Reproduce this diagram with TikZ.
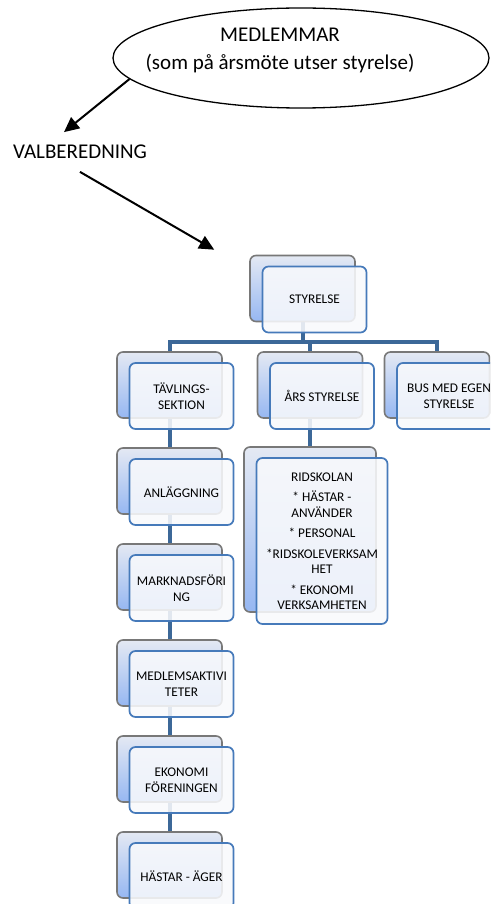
\documentclass[tikz,border=0pt]{standalone}
\usepackage{fontspec}
\setmainfont{Carlito}
\usetikzlibrary{arrows.meta, shapes.geometric, backgrounds}

\definecolor{boxgray}{RGB}{120,120,120}
\definecolor{boxblue}{RGB}{70,122,186}
\definecolor{linkblue}{RGB}{60,104,152}
\definecolor{shadetop}{RGB}{228,233,243}
\definecolor{shadebot}{RGB}{150,183,242}
\definecolor{frontfill}{RGB}{248,249,252}

\begin{document}
\begin{tikzpicture}[x=1pt, y=-1pt, >={Triangle[length=15pt, width=14pt]}]
% --- Global Styles ---
\tikzstyle{arr} = [->, line width=2pt]
\tikzstyle{conn} = [draw=linkblue, line width=4pt]
\tikzstyle{bigtext} = [font=\fontsize{21}{28}\selectfont, inner sep=2pt]
\tikzstyle{backbox} = [rectangle, rounded corners=6pt, draw=boxgray, line width=1.6pt, top color=shadetop, bottom color=shadebot, minimum width=105pt, minimum height=66pt]
\tikzstyle{frontbox} = [rectangle, rounded corners=6pt, draw=boxblue, line width=1.7pt, fill=frontfill, fill opacity=0.88, text opacity=1, minimum width=104pt, minimum height=66pt, align=center, font=\fontsize{13.3}{15.5}\selectfont]

% --- Page frame ---
\useasboundingbox (0,0) rectangle (490,904);
\clip (0,0) rectangle (490,904);

% --- Column and row coordinates (back boxes) ---
\def\xl{169.5}  % left column
\def\xm{310}    % middle column
\def\xr{437}    % right column
\def\ya{385}    % row 1
\def\yb{481}    % row 2
\def\yc{577}    % row 3
\def\yd{673}    % row 4
\def\ye{769}    % row 5
\def\yf{865}    % row 6
\def\dx{12}     % front box offset
\def\dy{11}

% ==========================================
% TOP: members and nomination
% ==========================================
\node[ellipse, draw, line width=1.3pt, minimum width=376pt, minimum height=100pt, inner sep=0pt] (medl) at (301,58) {};
\node[bigtext, align=center] (medltxt) at (280,50) {MEDLEMMAR\\(som på årsmöte utser styrelse)};

\node[bigtext, outer ysep=11pt] (valb) at (80,152) {VALBEREDNING};

% ==========================================
% ORGANISATION CHART
% ==========================================
\node[backbox] (sty-b) at (302.5,288.5) {};
\node[frontbox] (sty) at (302.5+\dx,288.5+\dy) {STYRELSE};

% second level
\node[backbox] (tav-b) at (\xl,\ya) {};
\node[frontbox] (tav) at (\xl+\dx,\ya+\dy) {TÄVLINGS-\\SEKTION};
\node[backbox] (ars-b) at (\xm,\ya) {};
\node[frontbox] (ars) at (\xm+\dx,\ya+\dy) {ÅRS STYRELSE};
\node[backbox] (bus-b) at (\xr,\ya) {};
\node[frontbox] (bus) at (\xr+\dx,\ya+\dy) {BUS MED EGEN\\STYRELSE};

% left column
\node[backbox] (anl-b) at (\xl,\yb) {};
\node[frontbox] (anl) at (\xl+\dx,\yb+\dy) {ANLÄGGNING};
\node[backbox] (mark-b) at (\xl,\yc) {};
\node[frontbox] (mark) at (\xl+\dx,\yc+\dy) {MARKNADSFÖRI\\NG};
\node[backbox] (akt-b) at (\xl,\yd) {};
\node[frontbox] (akt) at (\xl+\dx,\yd+\dy) {MEDLEMSAKTIVI\\TETER};
\node[backbox] (eko-b) at (\xl,\ye) {};
\node[frontbox] (eko) at (\xl+\dx,\ye+\dy) {EKONOMI\\FÖRENINGEN};
\node[backbox] (hast-b) at (\xl,\yf) {};
\node[frontbox] (hast) at (\xl+\dx,\yf+\dy) {HÄSTAR - ÄGER};

% riding school
\node[backbox, minimum width=132pt, minimum height=165pt] (rid-b) at (\xm,529.5) {};
\node[frontbox, minimum width=131pt, minimum height=166pt] (rid) at (\xm+\dx,541) {RIDSKOLAN\\[5pt]* HÄSTAR -\\ANVÄNDER\\[5pt]* PERSONAL\\[5pt]*RIDSKOLEVERKSAM\\HET\\[5pt]* EKONOMI\\VERKSAMHETEN};

% Connectors (behind the boxes)
\coordinate (jn) at (0,342);
\begin{scope}[on background layer]
\draw[conn] (sty-b.center) -- (sty-b.center |- jn);
\draw[conn] (tav-b.center) -- (tav-b.center |- jn) -| (bus-b.center);
\draw[conn] (ars-b.center) -- (ars-b.center |- jn);
\draw[conn] (ars-b.center) -- (rid-b.center);
\draw[conn] (tav-b.center) -- (anl-b.center) -- (mark-b.center) -- (akt-b.center) -- (eko-b.center) -- (hast-b.center);
\end{scope}

% Arrows
\draw[arr] (medl.187) -- ([xshift=-16pt]valb.north);
\draw[arr] (valb.south) -- ([xshift=-35pt, yshift=5pt]sty-b.north west);

\end{tikzpicture}
\end{document}
